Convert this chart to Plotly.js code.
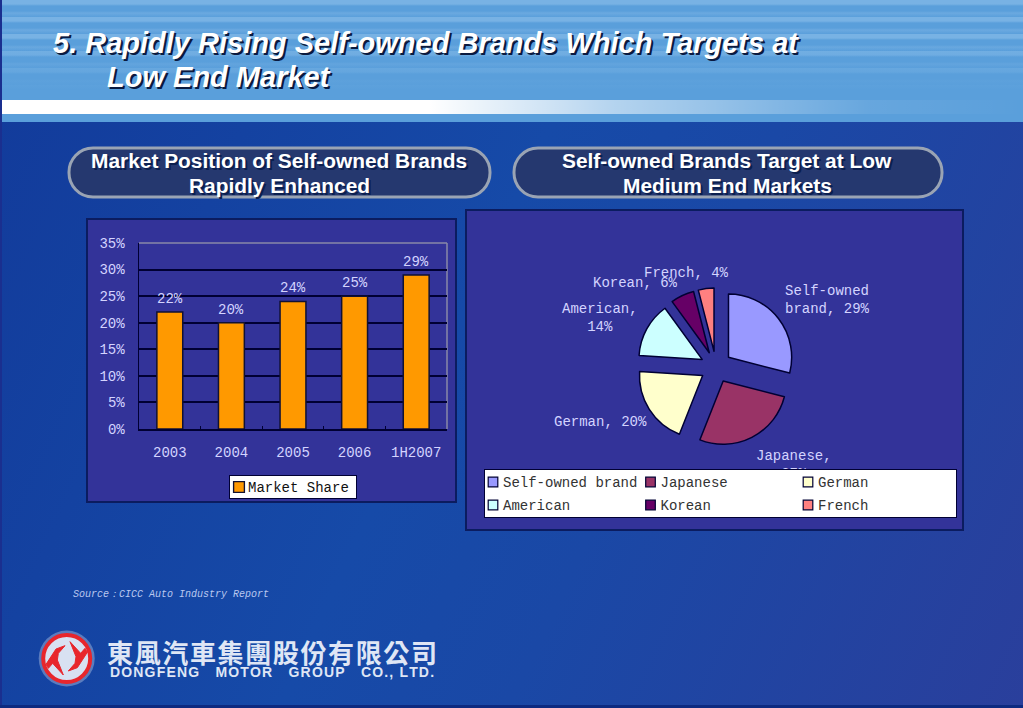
<!DOCTYPE html>
<html><head><meta charset="utf-8">
<script src="https://cdn.plot.ly/plotly-3.0.1.min.js"></script>
<style>
html,body{margin:0;padding:0;width:1023px;height:708px;overflow:hidden;background:#17409f}
#bg{position:absolute;left:0;top:0;width:1023px;height:708px;overflow:hidden;
background:linear-gradient(115deg,#123a9a 0%,#164aa8 45%,#1a48a6 62%,#2a3f9c 100%)}
#band{position:absolute;left:0;top:0;width:1023px;height:122px;
background:linear-gradient(180deg,rgba(90,156,216,0) 0,rgba(90,156,216,0) 40px,#5a9fdb 90px),repeating-linear-gradient(180deg,#78b2e4 0,#78b2e4 4px,#5a9fdb 6px,#5a9fdb 11px,#6ba9e0 13px,#5a9fdb 17px)}
#white{position:absolute;left:0;top:100px;width:1023px;height:14px;
background:linear-gradient(90deg,#fff 0,#fff 42%,rgba(255,255,255,.55) 60%,rgba(255,255,255,.08) 85%,rgba(255,255,255,0) 100%)}
#edge{position:absolute;left:0;top:0;width:2px;height:708px;background:#1a2f8f}
#foot{position:absolute;left:0;top:705px;width:1023px;height:3px;background:#0d2a80}
#g{position:absolute;left:0;top:0;width:1023px;height:708px}
</style></head><body>
<div id="bg"><div id="band"></div><div id="white"></div><div id="edge"></div><div id="foot"></div></div>
<div id="g"></div>
<script>
const years = ['2003','2004','2005','2006','1H2007'];
const marketShare = [22,20,24,25,29];
const brandLabels = ['Self-owned brand','Japanese','German','American','Korean','French'];
const brandShare = [29,27,20,14,6,4];
const brandColors = ['#9999ff','#993366','#ffffcc','#ccffff','#660066','#ff8080'];

const W=1023,H=708;
const px=x=>x/W, py=y=>1-y/H;
const mono='"Liberation Mono","DejaVu Sans Mono",monospace';
const lav='#d4d4ff';
const spaced=s=>s.split('').join('\u200a');

function pill(x0,y0,x1,y1,r){
  const a=px,b=py;
  return `M${a(x0+r)},${b(y0)} L${a(x1-r)},${b(y0)} C${a(x1-r*.4)},${b(y0)} ${a(x1)},${b(y0+r*.5)} ${a(x1)},${b(y0+r)} `+
   `L${a(x1)},${b(y1-r)} C${a(x1)},${b(y1-r*.5)} ${a(x1-r*.4)},${b(y1)} ${a(x1-r)},${b(y1)} L${a(x0+r)},${b(y1)} `+
   `C${a(x0+r*.4)},${b(y1)} ${a(x0)},${b(y1-r*.5)} ${a(x0)},${b(y1-r)} L${a(x0)},${b(y0+r)} C${a(x0)},${b(y0+r*.5)} ${a(x0+r*.4)},${b(y0)} ${a(x0+r)},${b(y0)} Z`;
}
const rect=(x0,y0,x1,y1,fill,lc,lw,layer)=>({type:'rect',xref:'paper',yref:'paper',x0:px(x0),x1:px(x1),y0:py(y1),y1:py(y0),fillcolor:fill,line:{color:lc,width:lw},layer:layer||'below'});
const circ=(cx,cy,r,fill,lc,lw,op)=>({type:'circle',xref:'paper',yref:'paper',x0:px(cx-r),x1:px(cx+r),y0:py(cy+r),y1:py(cy-r),fillcolor:fill,line:{color:lc,width:lw},opacity:op===undefined?1:op,layer:'below'});
const path=(d,fill,lc,lw)=>({type:'path',xref:'paper',yref:'paper',path:d,fillcolor:fill,line:{color:lc,width:lw},layer:'below'});
const poly=pts=>'M'+pts.map(p=>px(30+p[0]/3)+','+py(625+p[1]/3)).join(' L')+' Z';

const shapes=[
  path(pill(69,148,490,197,24),'#25386f','#9aa4b4',3),
  path(pill(514,148,942,197,24),'#25386f','#9aa4b4',3),
  rect(87,219,456,502,'#333399','#0b1c60',2),
  rect(466,210,963,530,'#333399','#0b1c60',2),
  circ(66.7,658.5,28,'#ffffff','rgba(0,0,0,0)',0,.3),
  circ(66.7,658.5,23.5,'#d8e1f2','#e8262c',4),
  path(poly([[48,118],[78,72],[105,62],[85,85],[82,105],[100,150],[68,115],[55,130]]),'#e8262c','#e8262c',1),
  path(poly([[172,82],[142,128],[115,138],[135,115],[138,95],[120,50],[152,85],[165,70]]),'#e8262c','#e8262c',1),
  {type:'line',xref:'x domain',yref:'y domain',x0:0,x1:1,y0:1,y1:1,line:{color:'#8a8aa8',width:1.5},layer:'below'},
  {type:'line',xref:'x domain',yref:'y domain',x0:1,x1:1,y0:0,y1:1,line:{color:'#8a8aa8',width:1.5},layer:'below'}
];

const note=(text,x,y,size,color,extra)=>Object.assign({text,xref:'paper',yref:'paper',x:px(x),y:py(y),xanchor:'center',yanchor:'middle',showarrow:false,
  font:{family:mono,size,color}},extra||{});
const head={family:'"Liberation Sans",Arial,sans-serif',size:20.9,color:'#ffffff',weight:700,shadow:'2px 2px 0 #0b1f4f'};
const titleFont={family:'"Liberation Sans",Arial,sans-serif',size:29,color:'#fff',weight:700,style:'italic',shadow:'2px 2px 0 #0a1a40'};

const barLabels=years.map((c,i)=>({text:marketShare[i]+'%',xref:'x',yref:'y',x:i,y:marketShare[i],yanchor:'middle',xanchor:'center',yshift:13,showarrow:false,
  font:{family:mono,size:14,color:lav}}));

const annotations=[
  note('Low End Market',219,77,29,'#fff',{font:titleFont}),
  note('Market Position of Self-owned Brands',279,160,20.9,'#fff',{font:head}),
  note('Rapidly Enhanced',279,185,20.9,'#fff',{font:head}),
  note('Self-owned Brands Target at Low',727,160,20.9,'#fff',{font:head}),
  note('Medium End Markets',727,185,20.9,'#fff',{font:head}),
  note('Self-owned<br>brand, 29%',827,300,14,lav),
  note('Japanese,<br>27%',794,465,14,lav),
  note('German, 20%',600,422,14,lav),
  note('American,<br>14%',600,318,14,lav),
  note('Korean, 6%',635,283,14,lav),
  note('French, 4%',686,273,14,lav),
  note('Source：CICC Auto Industry Report',171,594,10,'#b9c8f0',{font:{family:mono,size:10,color:'#b9c8f0',style:'italic'}}),
  note(spaced('東風汽車集團股份有限公司'),272,651,26,'#dfe6f5',{font:{family:'"Noto Sans CJK TC"',size:26,color:'#dfe6f5',weight:700}}),
  note(spaced('DONGFENG   MOTOR   GROUP   CO., LTD.'),272,672,14,'#dfe6f5',{font:{family:'"Liberation Sans"',size:14,color:'#dfe6f5',weight:700}})
].concat(barLabels);

const traces=[
 {type:'bar',x:years,y:marketShare,name:'Market Share',legend:'legend',showlegend:true,
  marker:{color:'#ff9900',line:{color:'#111133',width:1.5}},hoverinfo:'skip'},
 {type:'pie',labels:brandLabels,values:brandShare,sort:false,direction:'clockwise',rotation:0,
  pull:[.25,.25,.25,.25,.25,.25],textinfo:'none',legend:'legend2',showlegend:true,
  marker:{colors:brandColors,line:{color:'#000033',width:1.5}},
  domain:{x:[px(716-79),px(716+79)],y:[py(367+79),py(367-79)]},hoverinfo:'skip'}
];

const layout={
 width:W,height:H,margin:{l:0,r:0,t:0,b:0,autoexpand:false},paper_bgcolor:'rgba(0,0,0,0)',plot_bgcolor:'rgba(0,0,0,0)',
 font:{family:mono,size:14,color:lav},
 title:{text:'5. Rapidly Rising Self-owned Brands Which Targets at',automargin:false,
   x:px(53),xanchor:'left',xref:'paper',y:py(43),yref:'paper',yanchor:'middle',font:titleFont},
 bargap:.58,
 xaxis:{domain:[px(139),px(447)],type:'category',categoryorder:'array',categoryarray:years,range:[-.5,4.5],tickson:'boundaries',ticks:'inside',ticklen:3,tickcolor:'#000033',
   showline:true,linecolor:'#000033',linewidth:1.5,showgrid:false,zeroline:false,ticklabelstandoff:10,tickangle:0,
   tickfont:{family:mono,size:14,color:lav}},
 yaxis:{domain:[py(429),py(243)],range:[0,35],dtick:5,ticksuffix:'%',ticks:'outside',ticklen:0,
   showline:true,linecolor:'#000033',linewidth:1.5,gridcolor:'#000033',gridwidth:2,zeroline:false,ticklabelstandoff:10,
   tickfont:{family:mono,size:14,color:lav}},
 showlegend:true,
 legend:{x:px(229),y:py(475),xanchor:'left',yanchor:'top',bgcolor:'#fff',bordercolor:'#000033',borderwidth:1,
   font:{family:mono,size:14,color:'#111'},itemwidth:30,orientation:'h'},
 legend2:{x:px(484),y:py(469),xanchor:'left',yanchor:'top',bgcolor:'#fff',bordercolor:'#000033',borderwidth:1,
   font:{family:mono,size:14,color:'#333'},itemwidth:30,orientation:'h'},
 shapes,annotations
};

// Tighten the native legends to the reference's compact entry layout.
function tuneLegend(sel,w,h,swatchX,textX,pitch,rows,cols,scale){
  const lg=document.querySelector('.infolayer '+sel);
  if(!lg) return;
  const bg=lg.querySelector('rect.bg');
  bg.setAttribute('width',w); bg.setAttribute('height',h);
  const sb=lg.querySelector('.scrollbox');
  if(sb) sb.removeAttribute('clip-path');
  const left=bg.getBoundingClientRect().left;
  lg.querySelectorAll('g.traces').forEach((t,i)=>{
    const col=i%cols,row=Math.floor(i/cols);
    t.setAttribute('transform',`translate(${col*pitch},${rows[row]})`);
    const tx=t.querySelector('text');
    if(tx){
      tx.removeAttribute('clip-path');
      tx.removeAttribute('transform');
      tx.setAttribute('x',textX);
      tx.querySelectorAll('tspan').forEach(s=>s.setAttribute('x',textX));
      const target=left+col*pitch+textX;
      const off=target-tx.getBoundingClientRect().left;
      if(Math.abs(off)>.5) tx.setAttribute('transform',`translate(${off},0)`);
    }
    const sy=t.querySelector('.legendsymbols');
    if(sy) sy.setAttribute('transform',`translate(${swatchX},0) scale(${scale}) translate(-20,0)`);
  });
  lg.parentNode.appendChild(lg); // the legend sits on top of the data labels
}
Plotly.newPlot('g',traces,layout,{staticPlot:true,displayModeBar:false}).then(()=>{
  tuneLegend('.legend',127,23,10,19,0,[12],1,.9);
  tuneLegend('.legend2',472,48,9,19,157.5,[13,36],3,.8);
});
</script>
</body></html>
